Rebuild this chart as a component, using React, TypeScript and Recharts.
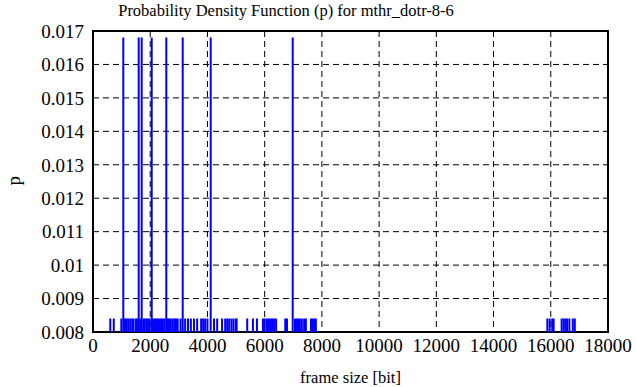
import { ComposedChart, Bar, XAxis, YAxis, CartesianGrid, ReferenceArea } from 'recharts';

// frame sizes [bit] that occur twice (p = 2/119)
const tallSizes = [1059, 1597, 1702, 2052, 2562, 3135, 4114, 6980];

// frame sizes [bit] that occur once (p = 1/119)
const shortSizes = [
  604, 726, 990, 1120, 1170, 1230, 1300, 1370, 1410, 1490, 1540, 1650, 1760, 1810,
  1870, 1920, 1980, 2100, 2160, 2210, 2270, 2330, 2380, 2440, 2500, 2610, 2660, 2720,
  2790, 2860, 2900, 2960, 3060, 3220, 3320, 3420, 3530, 3640, 3780, 3850, 3920, 4000,
  4230, 4340, 4510, 4620, 4690, 4760, 4840, 4910, 4990, 5020, 5390, 5590, 5730, 5940,
  6000, 6080, 6150, 6220, 6280, 6330, 6400, 6720, 6780, 7060, 7130, 7170, 7230, 7300,
  7380, 7440, 7620, 7680, 7730, 7790, 15880, 15960, 16050, 16100, 16380, 16450, 16510,
  16570, 16650, 16770, 16840,
];

const tallP = 2 / 119;
const shortP = 1 / 119;

const xTicks = [0, 2000, 4000, 6000, 8000, 10000, 12000, 14000, 16000, 18000];
const yTicks = [0.008, 0.009, 0.01, 0.011, 0.012, 0.013, 0.014, 0.015, 0.016, 0.017];

const data = [
  ...tallSizes.map((size) => ({ size, p: tallP })),
  ...shortSizes.map((size) => ({ size, p: shortP })),
].sort((a, b) => a.size - b.size);

const font = '"Liberation Serif", "Times New Roman", serif';

// impulse: 2px wide line centred on the bar's x position
function Impulse(props: any) {
  const { x, y, width, height } = props;
  if (height == null || height <= 0) return null;
  return <rect x={x + width / 2 - 1} y={y} width={2} height={height} fill="#0000ff" />;
}

export default function App() {
  return (
    <div style={{ position: 'absolute', left: 0, top: 0, width: 636, height: 387, background: '#fff', fontFamily: font }}>
      <div style={{ position: 'absolute', left: 0, top: 1, width: 572, textAlign: 'center', fontSize: 16.5, lineHeight: '20px', color: '#000' }}>
        Probability Density Function (p) for mthr_dotr-8-6
      </div>
      <ComposedChart width={636} height={387} data={data} margin={{ top: 31, right: 28, left: 0, bottom: 0 }}>
        <CartesianGrid stroke="#000" strokeDasharray="6 4" horizontalValues={yTicks} verticalValues={xTicks} />
        <XAxis
          dataKey="size"
          type="number"
          domain={[0, 18000]}
          ticks={xTicks}
          interval={0}
          height={55}
          axisLine={false}
          tickLine={false}
          tickSize={0}
          tickMargin={7}
          tick={{ fill: '#000', fontSize: 19, fontFamily: font }}
          label={{ value: 'frame size [bit]', position: 'insideBottom', offset: 4, fill: '#000', fontSize: 16.5, fontFamily: font }}
        />
        <YAxis
          type="number"
          domain={[0.008, 0.017]}
          ticks={yTicks}
          interval={0}
          allowDataOverflow
          width={93}
          axisLine={false}
          tickLine={false}
          tickSize={0}
          tickMargin={9}
          tick={{ fill: '#000', fontSize: 19, fontFamily: font }}
          label={{ value: 'p', angle: -90, position: 'insideLeft', offset: 13, dy: 4, fill: '#000', fontSize: 19, fontFamily: font }}
        />
        <Bar dataKey="p" fill="#0000ff" shape={<Impulse />} isAnimationActive={false} />
        <ReferenceArea x1={0} x2={18000} y1={0.008} y2={0.017} fill="none" stroke="#000" strokeWidth={2} ifOverflow="visible" />
      </ComposedChart>
    </div>
  );
}
